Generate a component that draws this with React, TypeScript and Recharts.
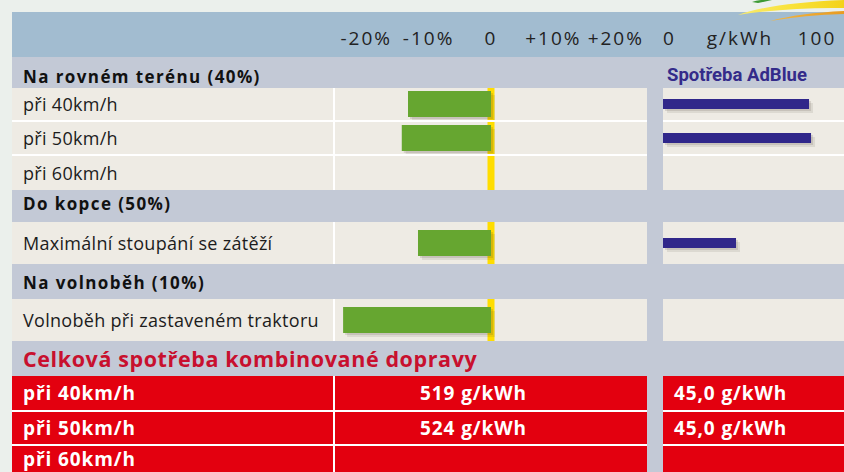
import React from 'react';
import { BarChart, Bar, XAxis, YAxis, ReferenceLine } from 'recharts';

// ---------- data ----------
const fuelTicks = [-20, -10, 0, 10, 20];
const adBlueTicks = [0, 50, 100];
const adBlueUnit = 'g/kWh';
const sectionLabels = ['Na rovném terénu (40%)', 'Do kopce (50%)', 'Na volnoběh (10%)'];
const itemLabels = [
  'při 40km/h',
  'při 50km/h',
  'při 60km/h',
  'Maximální stoupání se zátěží',
  'Volnoběh při zastaveném traktoru',
];
const fuelChange: (number | null)[] = [-13.3, -14.3, null, -11.7, -23.7];
const adBlueUse: (number | null)[] = [94.8, 96.1, null, 47.4, null];
const adBlueTitle = 'Spotřeba AdBlue';
const totalTitle = 'Celková spotřeba kombinované dopravy';
const totalLabels = ['při 40km/h', 'při 50km/h', 'při 60km/h'];
const totalFuel = ['519 g/kWh', '524 g/kWh', ''];
const totalAdBlue = ['45,0 g/kWh', '45,0 g/kWh', ''];

// ---------- layout ----------
const W = 844;
const H = 472;
const X_LABEL = 12;
const X_LABEL_END = 333;
const X_MID = 335;
const MID_W = 312;
const X_MID_END = X_MID + MID_W;
const X_RIGHT = 663;
const RIGHT_W = W - X_RIGHT;
const FUEL_DOMAIN: [number, number] = [-25, 25];
const ADBLUE_DOMAIN: [number, number] = [0, 117.5];

const itemGeom = [
  { y: 88, h: 32 },
  { y: 122, h: 32 },
  { y: 156, h: 34 },
  { y: 222, h: 42 },
  { y: 299, h: 42 },
];
const sectionGeom = [
  { y: 57, h: 31, dy: 4 },
  { y: 190, h: 32, dy: -3 },
  { y: 264, h: 35, dy: 1 },
];
const titleGeom = { y: 341, h: 35 };
const totalGeom = [
  { y: 376, h: 34 },
  { y: 412, h: 32 },
  { y: 446, h: 26 },
];
const whiteSeps = [120, 154, 410, 444];

const C = {
  page: '#EBF0EC',
  header: '#A2BCD0',
  section: '#C3C9D6',
  cream: '#EEEBE4',
  red: '#E3000F',
  titleRed: '#C8102E',
  green: '#66A630',
  yellow: '#FFDD00',
  blue: '#30278A',
  text: '#1c1c1c',
};
const FONT = "'Open Sans', 'Noto Sans', sans-serif";

const fmtPct = (v: number) => (v < 0 ? `-${-v}%` : v === 0 ? '0' : `+${v}%`);
const fmtAdBlue = (v: number) => (v === 50 ? adBlueUnit : String(v));

const AxisTick = (props: any) => {
  const { x, y, payload, fmt, startZero } = props;
  const v = payload.value;
  const anchor = startZero && v === 0 ? 'start' : 'middle';
  return (
    <text
      x={x}
      y={y}
      dy="0.71em"
      textAnchor={anchor}
      style={{ fontFamily: FONT, fontSize: 19, letterSpacing: 2, fill: '#222' }}
    >
      {fmt(v)}
    </text>
  );
};

const ShadowBar = (props: any) => {
  const { x, y, width, height, fill } = props;
  if (!width || !isFinite(width) || !isFinite(x)) return null;
  const x0 = width < 0 ? x + width : x;
  const w = Math.abs(width);
  return (
    <g>
      <rect x={x0 + 4} y={y + 4} width={w} height={height} fill="rgba(70,60,50,0.10)" />
      <rect x={x0 + 2} y={y + 2} width={w} height={height} fill="rgba(70,60,50,0.14)" />
      <rect x={x0} y={y} width={w} height={height} fill={fill} />
    </g>
  );
};

const zeroMargin = { top: 0, right: 0, bottom: 0, left: 0 };

function HeaderAxis({ left, width, domain, ticks, fmt, startZero }: any) {
  return (
    <div style={{ position: 'absolute', left, top: 12, width, height: 45 }}>
      <BarChart width={width} height={45} data={[{ name: 'axis', v: 0 }]} layout="vertical" margin={zeroMargin}>
        <XAxis
          type="number"
          domain={domain}
          ticks={ticks}
          interval={0}
          axisLine={false}
          tickLine={false}
          tickSize={0}
          tickMargin={0}
          height={25}
          allowDataOverflow
          tick={<AxisTick fmt={fmt} startZero={startZero} />}
        />
        <YAxis type="category" dataKey="name" hide />
        <Bar dataKey="v" fill="transparent" isAnimationActive={false} />
      </BarChart>
    </div>
  );
}

function FuelRow({ label, value, top, height }: any) {
  return (
    <div style={{ position: 'absolute', left: X_MID, top, width: MID_W, height }}>
      <BarChart width={MID_W} height={height} data={[{ name: label, v: value }]} layout="vertical" margin={zeroMargin}>
        <XAxis type="number" domain={FUEL_DOMAIN} hide allowDataOverflow />
        <YAxis type="category" dataKey="name" hide />
        <ReferenceLine x={0} stroke={C.yellow} strokeWidth={7} zIndex={50} />
        <Bar dataKey="v" fill={C.green} barSize={26} isAnimationActive={false} shape={<ShadowBar />} />
      </BarChart>
    </div>
  );
}

function AdBlueRow({ label, value, top, height }: any) {
  return (
    <div style={{ position: 'absolute', left: X_RIGHT, top, width: RIGHT_W, height }}>
      <BarChart width={RIGHT_W} height={height} data={[{ name: label, v: value }]} layout="vertical" margin={zeroMargin}>
        <XAxis type="number" domain={ADBLUE_DOMAIN} hide allowDataOverflow />
        <YAxis type="category" dataKey="name" hide />
        <Bar dataKey="v" fill={C.blue} barSize={10} isAnimationActive={false} shape={<ShadowBar />} />
      </BarChart>
    </div>
  );
}

const box = (left: number, top: number, width: number, height: number, bg: string, extra: any = {}) => ({
  position: 'absolute' as const,
  left,
  top,
  width,
  height,
  background: bg,
  ...extra,
});

const textCell = (extra: any = {}) => ({
  display: 'flex',
  alignItems: 'center',
  whiteSpace: 'nowrap' as const,
  fontFamily: FONT,
  boxSizing: 'border-box' as const,
  ...extra,
});

const redText = {
  fontSize: 19,
  fontWeight: 700,
  letterSpacing: 0.9,
  color: '#fff',
};

export default function App() {
  return (
    <div style={{ position: 'absolute', left: 0, top: 0, width: W, height: H, overflow: 'hidden', background: C.page }}>
      {/* header band */}
      <div style={box(12, 12, W - 12, 45, C.header)} />
      {/* table background (section colour) */}
      <div style={box(12, 57, W - 12, H - 57, C.section)} />

      {/* section rows */}
      {sectionGeom.map((g, i) => (
        <div
          key={'s' + i}
          style={box(X_LABEL, g.y, 500, g.h, 'transparent', textCell({
            paddingLeft: 11,
            paddingTop: Math.max(0, g.dy) * 2,
            paddingBottom: Math.max(0, -g.dy) * 2,
            fontSize: 17,
            fontWeight: 700,
            letterSpacing: 1.4,
            color: '#111',
          }))}
        >
          {sectionLabels[i]}
        </div>
      ))}
      <div
        style={box(667, 57, 177, 31, 'transparent', textCell({
          fontFamily: "Roboto, 'Noto Sans', sans-serif",
          fontSize: 18.5,
          fontWeight: 700,
          color: '#342B8A',
          paddingTop: 4,
        }))}
      >
        {adBlueTitle}
      </div>

      {/* item rows */}
      {itemGeom.map((g, i) => (
        <React.Fragment key={'i' + i}>
          <div style={box(X_LABEL, g.y, X_MID_END - X_LABEL, g.h, '#fff')} />
          <div
            style={box(X_LABEL, g.y, X_LABEL_END - X_LABEL, g.h, C.cream, textCell({
              paddingLeft: 11,
              fontSize: 18,
              letterSpacing: 0.3,
              color: C.text,
            }))}
          >
            {itemLabels[i]}
          </div>
          <div style={box(X_MID, g.y, MID_W, g.h, C.cream)} />
          <div style={box(X_RIGHT, g.y, RIGHT_W, g.h, C.cream)} />
        </React.Fragment>
      ))}

      {/* total title */}
      <div
        style={box(X_LABEL, titleGeom.y, 700, titleGeom.h, 'transparent', textCell({
          paddingLeft: 11,
          fontSize: 21.5,
          fontWeight: 700,
          letterSpacing: 0.6,
          color: C.titleRed,
        }))}
      >
        {totalTitle}
      </div>

      {/* total rows */}
      {totalGeom.map((g, i) => (
        <React.Fragment key={'t' + i}>
          <div style={box(X_LABEL, g.y, X_MID_END - X_LABEL, g.h, '#fff')} />
          <div style={box(X_LABEL, g.y, X_LABEL_END - X_LABEL, g.h, C.red, textCell({ paddingLeft: 11, ...redText }))}>
            {totalLabels[i]}
          </div>
          <div style={box(X_MID, g.y, MID_W, g.h, C.red, textCell({ paddingLeft: 85, ...redText }))}>
            {totalFuel[i]}
          </div>
          <div style={box(X_RIGHT, g.y, RIGHT_W, g.h, C.red, textCell({ paddingLeft: 11, ...redText }))}>
            {totalAdBlue[i]}
          </div>
        </React.Fragment>
      ))}

      {/* white separators */}
      {whiteSeps.map((y) => (
        <React.Fragment key={'w' + y}>
          <div style={box(X_LABEL, y, X_MID_END - X_LABEL, 2, '#fff')} />
          <div style={box(X_RIGHT, y, RIGHT_W, 2, '#fff')} />
        </React.Fragment>
      ))}

      {/* axes in header */}
      <HeaderAxis left={X_MID} width={MID_W} domain={FUEL_DOMAIN} ticks={fuelTicks} fmt={fmtPct} />
      <HeaderAxis left={X_RIGHT} width={RIGHT_W} domain={ADBLUE_DOMAIN} ticks={adBlueTicks} fmt={fmtAdBlue} startZero />

      {/* bars */}
      {itemGeom.map((g, i) => (
        <FuelRow key={'f' + i} label={itemLabels[i]} value={fuelChange[i]} top={g.y} height={g.h} />
      ))}
      {itemGeom.map((g, i) => (
        <AdBlueRow key={'a' + i} label={itemLabels[i]} value={adBlueUse[i]} top={g.y} height={g.h} />
      ))}

      {/* decorative swoosh */}
      <svg width={W} height={30} style={{ position: 'absolute', left: 0, top: 0 }}>
        <defs>
          <linearGradient id="sw" x1="0" x2="1" y1="0" y2="0">
            <stop offset="0" stopColor="#F7EA70" />
            <stop offset="0.5" stopColor="#F9E23A" />
            <stop offset="1" stopColor="#F3D21A" />
          </linearGradient>
          <linearGradient id="sw2" x1="0" x2="1" y1="0" y2="0">
            <stop offset="0" stopColor="#F3B640" />
            <stop offset="1" stopColor="#E89B22" />
          </linearGradient>
        </defs>
        <path d="M752,2 Q760,-1 772,0 L758,3 Z" fill="#3C9A34" />
        <path d="M738,15 Q770,3 844,0 L844,8 Q790,7 738,15 Z" fill="url(#sw)" />
        <path d="M770,21 Q800,13 844,11 L844,14 Q805,15 770,21 Z" fill="url(#sw2)" />
      </svg>
    </div>
  );
}
